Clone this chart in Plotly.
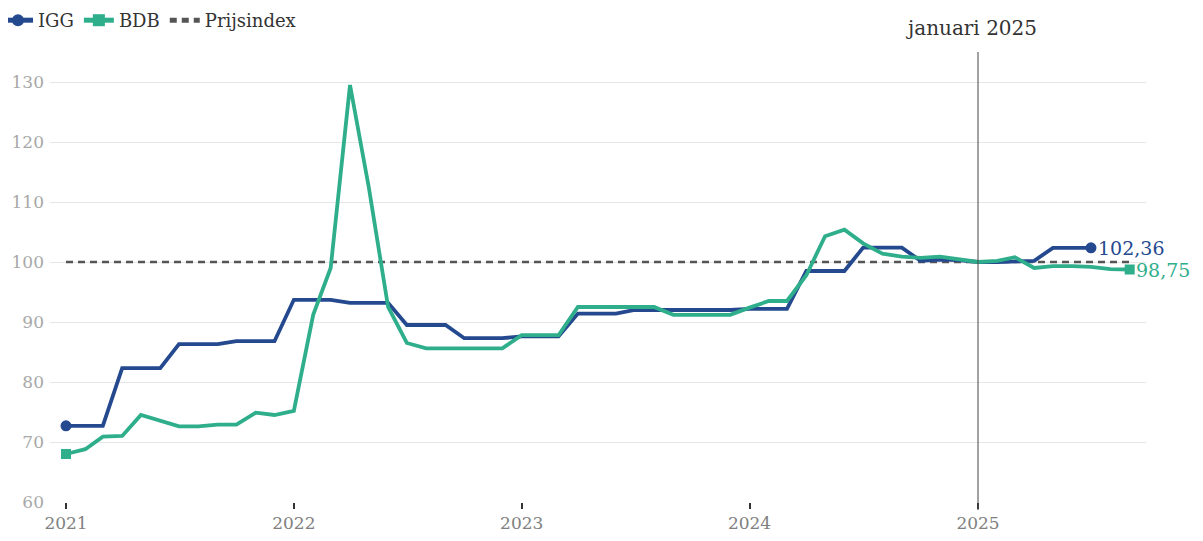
import pandas as pd
import plotly.graph_objects as go

# ---- data ----
igg_values = [
    72.7, 72.7, 72.7, 82.3, 82.3, 82.3, 86.3, 86.3, 86.3, 86.8, 86.8, 86.8,
    93.7, 93.7, 93.7, 93.2, 93.2, 93.2, 89.5, 89.5, 89.5, 87.3, 87.3, 87.3,
    87.6, 87.6, 87.6, 91.4, 91.4, 91.4, 92.0, 92.0, 91.9, 91.9, 91.9, 92.0,
    92.2, 92.2, 92.2, 98.5, 98.5, 98.5, 102.4, 102.4, 102.4, 100.2, 100.4, 100.3,
    100.0, 100.0, 100.1, 100.2, 102.36, 102.36, 102.36,
]
bdb_values = [
    68.0, 68.8, 70.9, 71.0, 74.5, 73.5, 72.6, 72.6, 72.9, 72.9, 74.9, 74.5,
    75.2, 91.2, 99.0, 129.5, 112.5, 92.5, 86.5, 85.6, 85.6, 85.6, 85.6, 85.6,
    87.8, 87.8, 87.8, 92.5, 92.5, 92.5, 92.5, 92.5, 91.2, 91.2, 91.2, 91.2,
    92.4, 93.5, 93.5, 97.8, 104.3, 105.4, 103.1, 101.4, 100.9, 100.7, 100.9, 100.4,
    100.0, 100.2, 100.8, 99.0, 99.3, 99.3, 99.2, 98.8, 98.75,
]
prijs_dates = ["2021-01-01", "2025-09-01"]
prijs_values = [100, 100]
year_ticks = ["2021-01-01", "2022-01-01", "2023-01-01", "2024-01-01", "2025-01-01"]
year_labels = ["2021", "2022", "2023", "2024", "2025"]
y_ticks = [60, 70, 80, 90, 100, 110, 120, 130]
igg_label = "102,36"
bdb_label = "98,75"
ref_date = "2025-01-01"
ref_text = "januari 2025"

igg_dates = pd.date_range("2021-01-01", periods=len(igg_values), freq="MS")
bdb_dates = pd.date_range("2021-01-01", periods=len(bdb_values), freq="MS")

# ---- styling ----
C_IGG = "#24498f"
C_BDB = "#2fae8c"
C_PRIJS = "#555555"
FONT = "DejaVu Serif"

# page has an 8px body margin; figure size/margins compensate for it
FIG_W, FIG_H = 1195, 533
M_L, M_T = 42, 44
M_R = FIG_W - 1138
M_B = FIG_H - 494
PLOT_W = FIG_W - M_L - M_R
PLOT_H = FIG_H - M_T - M_B

# x range so that 2021 -> fig px 58 and 2025 -> fig px 970, plot area from 42 to 1138
t0 = pd.Timestamp("2021-01-01")
t1 = pd.Timestamp("2025-01-01")
scale = 912 / (t1 - t0).total_seconds()
x_start = t0 - pd.Timedelta(seconds=16 / scale)
x_end = t0 + pd.Timedelta(seconds=(1138 - 58) / scale)

def end_sizes(n, s):
    arr = [0] * n
    arr[0] = s
    arr[-1] = s
    return arr

fig = go.Figure()
fig.add_trace(go.Scatter(
    x=prijs_dates, y=prijs_values, name="Prijsindex", mode="lines",
    line=dict(color=C_PRIJS, width=2.5, dash="7px,5px"),
    legendrank=3,
))
fig.add_trace(go.Scatter(
    x=igg_dates, y=igg_values, name="IGG", mode="lines+markers",
    line=dict(color=C_IGG, width=3.8),
    marker=dict(symbol="circle", size=end_sizes(len(igg_values), 11), color=C_IGG,
                opacity=1, line=dict(width=0)),
    cliponaxis=False, legendrank=1,
))
fig.add_trace(go.Scatter(
    x=bdb_dates, y=bdb_values, name="BDB", mode="lines+markers",
    line=dict(color=C_BDB, width=3.8),
    marker=dict(symbol="square", size=end_sizes(len(bdb_values), 10), color=C_BDB,
                opacity=1, line=dict(width=0)),
    cliponaxis=False, legendrank=2,
))

fig.add_shape(type="line", x0=ref_date, x1=ref_date, xref="x",
              y0=-0.018, y1=1.0, yref="y domain",
              line=dict(color="#444444", width=1))

fig.add_annotation(x=ref_date, y=1.053, xref="x", yref="y domain",
                   text=ref_text, showarrow=False, xshift=-7,
                   xanchor="center", yanchor="middle",
                   font=dict(family=FONT, size=20, color="#333333"))
fig.add_annotation(x=igg_dates[-1], y=igg_values[-1], text=igg_label,
                   showarrow=False, xanchor="left", yanchor="middle", xshift=5,
                   font=dict(family=FONT, size=19, color=C_IGG))
fig.add_annotation(x=bdb_dates[-1], y=bdb_values[-1], text=bdb_label,
                   showarrow=False, xanchor="left", yanchor="middle", xshift=4,
                   font=dict(family=FONT, size=19, color=C_BDB))

fig.update_layout(
    width=FIG_W, height=FIG_H,
    margin=dict(l=M_L, r=M_R, t=M_T, b=M_B, autoexpand=False),
    plot_bgcolor="white", paper_bgcolor="white",
    font=dict(family=FONT, size=17, color="#333333"),
    showlegend=True,
    legend=dict(orientation="h", xref="paper", yref="paper",
                x=(-10 - M_L) / PLOT_W, y=1 + (M_T + 6) / PLOT_H,
                xanchor="left", yanchor="top",
                itemwidth=30, itemsizing="constant", traceorder="normal",
                font=dict(family=FONT, size=18, color="#333333"),
                bgcolor="rgba(0,0,0,0)"),
    xaxis=dict(type="date", range=[x_start, x_end], tickvals=year_ticks,
               ticktext=year_labels, ticks="outside", ticklen=6, tickwidth=1.5,
               tickcolor="#333333", showgrid=False, zeroline=False, showline=False,
               tickfont=dict(family=FONT, size=17, color="#808080")),
    yaxis=dict(range=[60, 135], tickvals=y_ticks, showgrid=True,
               gridcolor="#e6e6e6", gridwidth=1, zeroline=False, showline=False,
               ticks="", ticklabelstandoff=5,
               tickfont=dict(family=FONT, size=17, color="#a8a8a8")),
)

fig.write_html("out.html")
